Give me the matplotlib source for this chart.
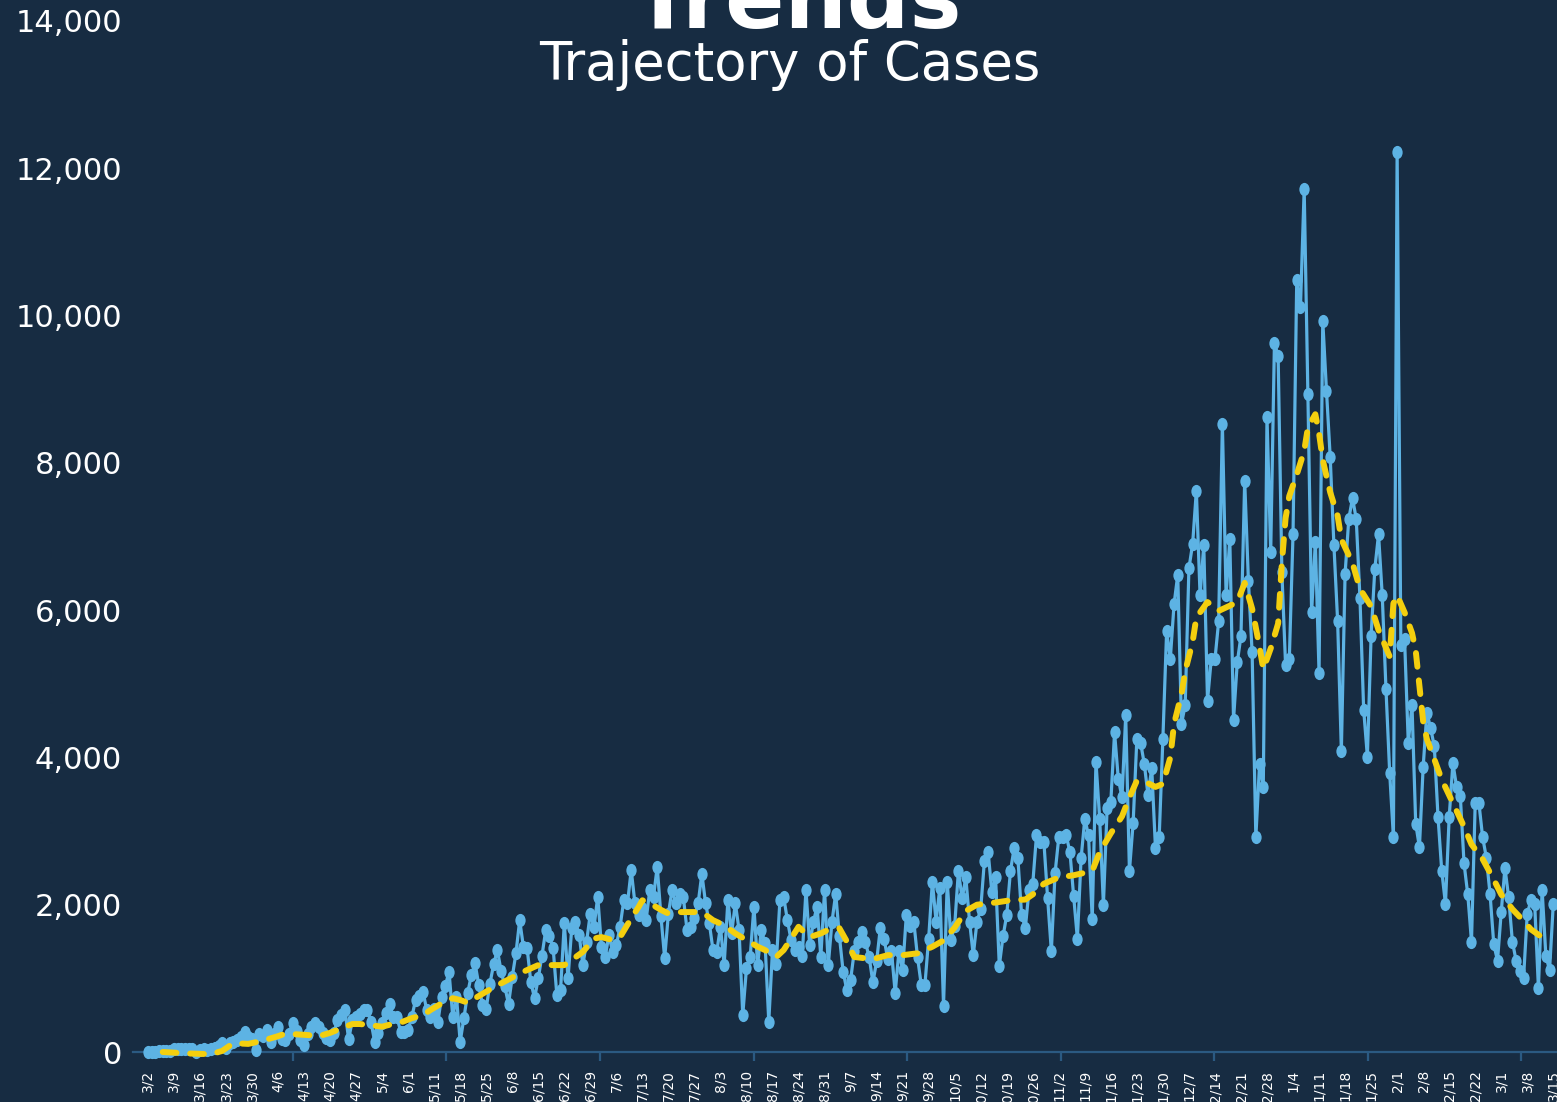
import numpy as np
import matplotlib
matplotlib.use("Agg")
import matplotlib.pyplot as plt
from matplotlib.path import Path
from matplotlib.markers import MarkerStyle
import matplotlib.ticker as mticker

# daily new cases, one value per day starting 3/2/2020
daily_cases = [
    # 3/2 .. 5/31 (days 0-91)
    0, 5, 5, 10, 15, 15, 20,
    40, 40, 35, 35, 40, 35, 0,
    30, 35, 30, 40, 60, 80, 120,
    60, 127, 140, 160, 200, 270, 210,
    180, 30, 245, 220, 300, 140, 250,
    344, 170, 160, 250, 400, 290, 160,
    95, 250, 344, 389, 344, 260, 185,
    163, 253, 434, 500, 570, 170, 434,
    479, 520, 570, 570, 410, 140, 253,
    400, 525, 650, 479, 470, 275, 275,
    300, 479, 706, 760, 820, 570, 479,
    590, 410, 751, 900, 1090, 479, 751,
    140, 460, 796, 1045, 1203, 910, 640, 590,
    # days 92-188
    930, 1190, 1384, 1100, 890, 650, 1020, 1340, 1790, 1430,
    1410, 950, 730, 1000, 1310, 1650, 1570, 1410, 770, 840,
    1750, 1000, 1680, 1770, 1590, 1180, 1500, 1880, 1700, 2110,
    1430, 1290, 1590, 1360, 1450, 1700, 2060, 2020, 2470, 2020,
    1860, 1950, 1790, 2200, 2110, 2516, 1840, 1270, 1880, 2200,
    2020, 2150, 2110, 1660, 1700, 1815, 2020, 2420, 2020, 1750,
    1384, 1360, 1700, 1180, 2060, 1610, 2020, 1660, 500, 1140,
    1290, 1975, 1180, 1660, 1475, 410, 1384, 1200, 2060, 2110,
    1790, 1520, 1384, 1430, 1310, 2200, 1450, 1770, 1975, 1290,
    2200, 1180, 1770, 2150, 1570, 1090, 840,
    # days 189-284
    975, 1370, 1500, 1630, 1490, 1290, 945, 1230, 1685, 1540,
    1260, 1370, 800, 1370, 1115, 1860, 1715, 1770, 1290, 915,
    915, 1540, 2315, 1770, 2230, 630, 2315, 1515, 1715, 2457,
    2085, 2370, 1770, 1315, 1770, 1940, 2600, 2715, 2170, 2370,
    1170, 1570, 1860, 2457, 2770, 2630, 1860, 1685, 2200, 2285,
    2940, 2850, 2850, 2085, 1370, 2430, 2915, 2915, 2940, 2715,
    2115, 1540, 2630, 3170, 2940, 1800, 3940, 3170, 2000, 3313,
    3400, 4340, 3713, 3456, 4570, 2457, 3113, 4255, 4200, 3913,
    3485, 3856, 2770, 2915, 4255, 5710, 5340, 6080, 6480, 4455,
    4710, 6567, 6900, 7623, 6200, 6880,
    # days 285-335
    4770, 5330, 5330, 5850, 8530, 6200, 6960, 4510, 5290, 5650,
    7760, 6400, 5425, 2915, 3910, 3600, 8620, 6790, 9630, 9450,
    6520, 5250, 5330, 7030, 10480, 10110, 11720, 8930, 5970, 6920,
    5150, 9930, 8980, 8080, 6880, 5850, 4090, 6490, 7240, 7520,
    7240, 6170, 4650, 4010, 5650, 6560, 7030, 6200, 4930, 3790,
    2915,
    # days 336-378
    12220, 5530, 5610, 4200, 4710, 3100, 2780, 3870, 4610, 4400,
    4150, 3190, 2460, 2010, 3190, 3920, 3600, 3470, 2560, 2140,
    1500, 3380, 3380, 2915, 2640, 2140, 1460, 1240, 1900, 2500,
    2100, 1500, 1240, 1100, 1000, 1880, 2060, 2010, 870, 2200,
    1310, 1110, 2010,
]

# average line (day index, cases)
avg_days = [4, 11, 17, 20, 23, 27, 31, 35, 37, 40, 43, 46, 49, 52, 55, 57,
            61, 63, 65, 68, 71, 74, 76, 79, 82, 84, 86, 88, 91,
            95, 101, 105, 108, 112, 114, 117, 120, 122, 125, 127, 130, 132,
            133, 135, 138, 140, 143, 146, 149, 152, 155, 158, 161, 164, 166,
            169, 171, 173, 175, 178, 181, 183, 186, 188, 190, 195, 199, 203,
            207, 211, 214, 217, 220, 223, 228, 232, 236, 238, 241, 245, 249,
            254, 256, 259, 262, 264, 266, 269, 271, 273, 275, 276, 278, 279,
            281, 282, 285, 288, 291, 293, 295, 297, 299, 300, 302, 304, 305,
            306, 307, 309, 311, 312, 314, 315, 316, 318, 320, 321, 324, 326,
            329, 331, 334, 335, 336, 338, 340, 341, 342, 343, 344, 346, 348,
            351, 354, 356, 359, 362, 364, 367, 370, 372, 376]
avg_cases = [0, -20, -30, 15, 120, 110, 155, 215, 250, 240, 230, 215, 260, 320, 380, 380,
             355, 344, 370, 400, 460, 500, 570, 660, 730, 706, 670, 730, 820,
             932, 1090, 1180, 1180, 1180, 1250, 1360, 1540, 1560, 1520, 1560, 1815, 1970,
             2060, 2020, 1930, 1880, 1900, 1900, 1900, 1790, 1720, 1610, 1520, 1430, 1384,
             1290, 1384, 1540, 1700, 1560, 1610, 1660, 1680, 1500, 1290, 1260, 1315, 1315,
             1340, 1430, 1515, 1690, 1915, 2000, 2030, 2060, 2070, 2140, 2285, 2370, 2400,
             2457, 2715, 2970, 3200, 3456, 3685, 3650, 3600, 3640, 4000, 4455, 4860, 5170,
             5570, 5900, 6110, 5990, 6060, 6110, 6370, 6020, 5500, 5200, 5480, 5820, 6640,
             7250, 7550, 7840, 8160, 8480, 8660, 8400, 8040, 7600, 7280, 6960, 6640, 6290,
             6050, 5730, 5370, 6090, 6200, 5970, 5690, 5450, 4970, 4490, 4250, 3975, 3700,
             3380, 3060, 2820, 2620, 2340, 2140, 1940, 1780, 1665, 1520]

week_labels = ["3/2", "3/9", "3/16", "3/23", "3/30", "4/6", "4/13", "4/20", "4/27",
               "5/4", "6/1", "5/11", "5/18", "5/25", "6/8", "6/15", "6/22", "6/29",
               "7/6", "7/13", "7/20", "7/27", "8/3", "8/10", "8/17", "8/24", "8/31",
               "9/7", "9/14", "9/21", "9/28", "10/5", "10/12", "10/19", "10/26",
               "11/2", "11/9", "11/16", "11/23", "11/30", "12/7", "12/14", "12/21",
               "12/28", "1/4", "1/11", "1/18", "1/25", "2/1", "2/8", "2/15", "2/22",
               "3/1", "3/8", "3/15"]

y_ticks = [0, 2000, 4000, 6000, 8000, 10000, 12000, 14000]

BG = "#172c42"
BLUE = "#5db3e4"
GOLD = "#f4cf0e"
AXIS = "#2b5a82"
FONT = "DejaVu Sans"

days = np.arange(len(daily_cases))

fig = plt.figure(figsize=(15.57, 11.02), dpi=100, facecolor=BG)
ax = fig.add_axes([133 / 1557, 50 / 1102, 1424 / 1557, 1031 / 1102])
ax.set_facecolor(BG)

circ = Path.unit_circle()
ellipse = Path(circ.vertices * np.array([0.78, 1.0]), circ.codes)

ax.plot(days, daily_cases, color=BLUE, lw=2.3, marker=MarkerStyle(ellipse),
        ms=9.5, mew=0, zorder=3, clip_on=False)
ax.plot(avg_days, avg_cases, color=GOLD, lw=4.3, dashes=(2.3, 2.3),
        dash_capstyle="round", dash_joinstyle="round", zorder=4, clip_on=False)

ax.set_xlim(-4, 379)
ax.set_ylim(0, 14000)

for s in ["top", "right", "left"]:
    ax.spines[s].set_visible(False)
ax.spines["bottom"].set_color(AXIS)
ax.spines["bottom"].set_linewidth(1.6)

ax.set_yticks(y_ticks)
ax.yaxis.set_major_formatter(mticker.FuncFormatter(lambda v, p: f"{v:,.0f}"))
ax.tick_params(axis="y", length=0, pad=8, labelsize=22, labelcolor="white")

ax.set_xticks(np.arange(0, len(daily_cases), 7))
ax.set_xticklabels(week_labels, rotation=90, va="top", ha="center")
ax.tick_params(axis="x", which="major", length=0, pad=13, labelsize=10,
               labelcolor="white")
ax.set_xticks(39 + 41.3 * np.arange(9), minor=True)
ax.tick_params(axis="x", which="minor", length=6.5, width=1.6, color=AXIS,
               direction="out")

for lab in ax.get_xticklabels() + ax.get_yticklabels():
    lab.set_fontfamily(FONT)

fig.text(0.512, 1 - 28 / 1102, "Trends", ha="center", va="baseline",
         fontsize=63, fontweight="bold", color="white", family=FONT)
fig.text(0.507, 1 - 80 / 1102, "Trajectory of Cases", ha="center", va="baseline",
         fontsize=38, color="white", family=FONT)

fig.savefig("out.png", dpi=100, facecolor=BG)
